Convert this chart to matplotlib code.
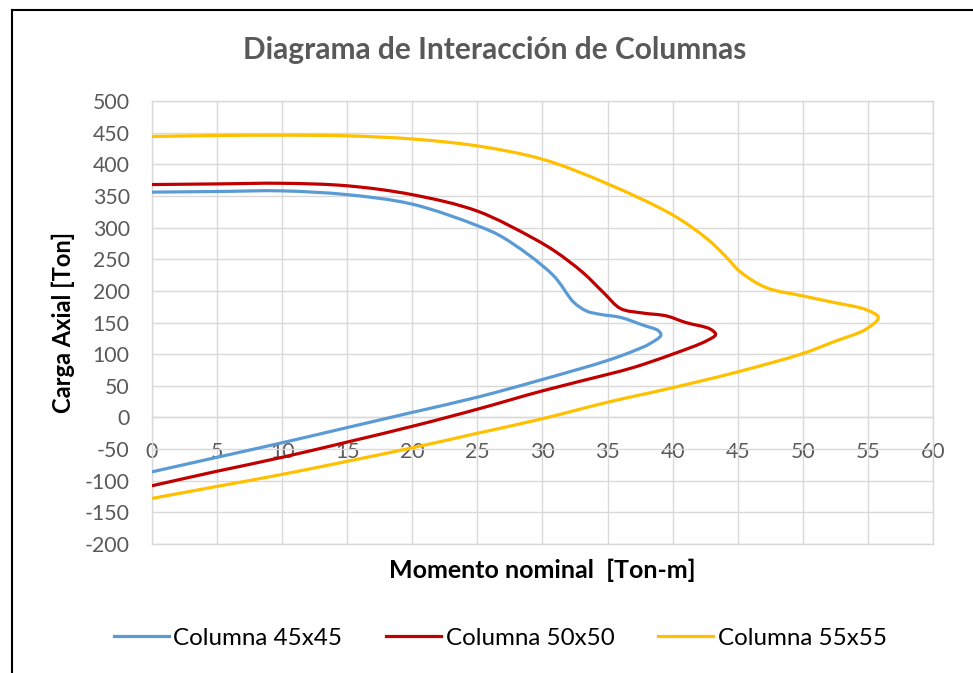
import numpy as np
import matplotlib.pyplot as plt
from matplotlib.path import Path
from matplotlib.patches import PathPatch
from matplotlib.lines import Line2D

plt.rcParams["font.family"] = ["Lato", "DejaVu Sans"]
plt.rcParams["axes.unicode_minus"] = False

# Interaction diagram points (M [Ton-m], P [Ton]), traced from the
# pure-compression end, around the balanced point, down to pure tension.
m_45 = [0, 5, 10, 15, 20, 25, 27, 30.8, 32.4, 33.4, 34.4, 36, 37.7, 38.9,
        39.1, 38.2, 37, 35, 30, 25, 20, 15, 10, 5, 0]
p_45 = [356, 357, 358, 352, 337, 303, 284, 225, 182, 168, 163, 158, 146, 137,
        130, 116, 105, 90, 60, 32, 8, -16, -40, -63, -86]

m_50 = [0, 5, 10, 15, 20, 25, 29.3, 31, 33.1, 34.7, 36, 37.7, 39.5, 41, 42.9,
        43.3, 42.6, 40, 37, 35, 30, 25, 20, 10, 5, 0]
p_50 = [368, 369, 370, 366, 352, 326, 283, 262, 229, 197, 172, 165, 160.5, 150, 139.5,
        131, 121, 100, 79, 68, 42, 13, -14, -63, -85, -108]

m_55 = [0, 5, 10, 15, 20, 25, 30, 34.9, 40, 42.6, 44, 45.2, 47.2, 50, 52.3,
        54.9, 55.8, 54.9, 52.3, 50, 45, 40, 35, 30, 25, 20, 10, 5, 0]
p_55 = [444, 445.5, 446, 445, 440, 429, 408, 370, 320, 283, 256, 230, 205, 192, 182,
        170, 158, 140, 119, 101, 72, 47, 24, -2, -25, -48, -90, -109, -128]

labels = ["Columna 45x45", "Columna 50x50", "Columna 55x55"]
colors = ["#5B9BD5", "#C00000", "#FFC000"]
x_ticks = np.arange(0, 61, 5)
y_ticks = np.arange(-200, 501, 50)

# rough pixel size of one data unit, so the spline spacing is measured on screen
SX, SY = 13.0, 0.634


def smooth_path(xs, ys, alpha=0.5):
    """Centripetal Catmull-Rom through the points, written as cubic Beziers."""
    pts = np.column_stack([xs, ys]).astype(float)
    pts = np.vstack([2 * pts[0] - pts[1], pts, 2 * pts[-1] - pts[-2]])
    scale = np.array([SX, SY])

    def knot(a, b):
        return max(np.linalg.norm((b - a) * scale) ** alpha, 1e-6)

    verts = [pts[1]]
    codes = [Path.MOVETO]
    for i in range(1, len(pts) - 2):
        p0, p1, p2, p3 = pts[i - 1], pts[i], pts[i + 1], pts[i + 2]
        d0, d1, d2 = knot(p0, p1), knot(p1, p2), knot(p2, p3)
        t1 = (p1 - p0) / d0 - (p2 - p0) / (d0 + d1) + (p2 - p1) / d1
        t2 = (p2 - p1) / d1 - (p3 - p1) / (d1 + d2) + (p3 - p2) / d2
        verts += [p1 + t1 * d1 / 3, p2 - t2 * d1 / 3, p2]
        codes += [Path.CURVE4] * 3
    return Path(verts, codes)


fig = plt.figure(figsize=(9.73, 6.73), dpi=100)
ax = fig.add_axes([0.1562, 0.1917, 0.8027, 0.6582])

for xs, ys, c in zip([m_45, m_50, m_55], [p_45, p_50, p_55], colors):
    ax.add_patch(PathPatch(smooth_path(xs, ys), facecolor="none", edgecolor=c,
                           linewidth=2.3, capstyle="round", joinstyle="round", zorder=3))

ax.set_xlim(0, 60)
ax.set_ylim(-200, 500)
ax.set_xticks(x_ticks)
ax.set_yticks(y_ticks)
ax.grid(True, color="#D9D9D9", linewidth=1.0)
ax.set_axisbelow(True)
ax.axhline(-200, color="#D9D9D9", linewidth=1.0, clip_on=False, zorder=1)

for side in ["top", "right", "left"]:
    ax.spines[side].set_color("#D9D9D9")
    ax.spines[side].set_linewidth(1.0)
ax.spines["bottom"].set_position(("data", 0))
ax.spines["bottom"].set_color("#D9D9D9")
ax.spines["bottom"].set_linewidth(1.0)

ax.tick_params(axis="both", length=0, labelsize=15.3, labelcolor="#595959")
ax.tick_params(axis="x", pad=18)
ax.tick_params(axis="y", pad=16)

ax.set_xlabel("Momento nominal  [Ton-m]", fontsize=18, fontweight="bold", color="black")
ax.xaxis.set_label_coords(0.5, -0.032)
ax.set_ylabel("Carga Axial [Ton]", fontsize=17, fontweight="bold", color="black")
ax.yaxis.set_label_coords(-0.0986, 0.5)

fig.text(0.508, 0.925, "Diagrama de Interacción de Columnas", ha="center", va="center",
         fontsize=21.5, fontweight="bold", color="#595959")

handles = [Line2D([], [], color=c, linewidth=2.3) for c in colors]
fig.legend(handles, labels, loc="center", bbox_to_anchor=(0.514, 0.052), ncol=3,
           frameon=False, fontsize=17.4, handlelength=2.27, handletextpad=0.2,
           columnspacing=1.8)

# outer chart frame (top and left edges)
fig.add_artist(Line2D([12 / 973, 1.0], [1 - 10 / 673, 1 - 10 / 673],
                      transform=fig.transFigure, color="black", linewidth=1.5))
fig.add_artist(Line2D([12 / 973, 12 / 973], [0.0, 1 - 10 / 673],
                      transform=fig.transFigure, color="black", linewidth=1.5))

fig.savefig("out.png", dpi=100)
